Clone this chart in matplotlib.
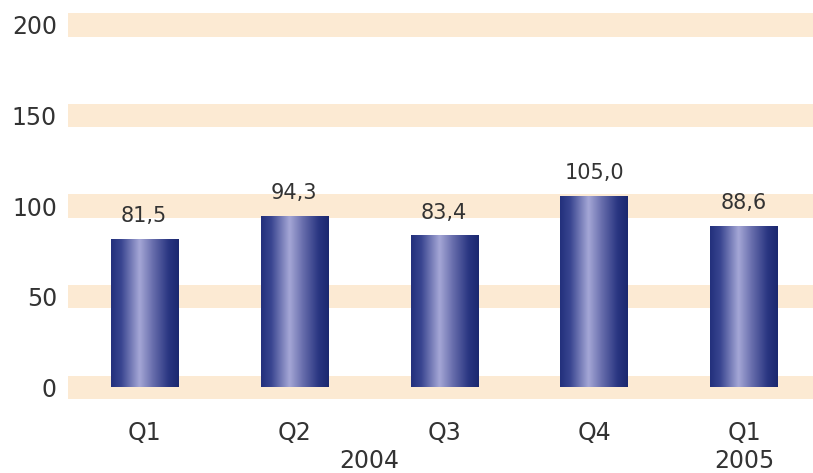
import numpy as np
import matplotlib
matplotlib.use('Agg')
import matplotlib.pyplot as plt
from matplotlib.colors import LinearSegmentedColormap

# data
quarters = ['Q1', 'Q2', 'Q3', 'Q4', 'Q1']
values = [81.5, 94.3, 83.4, 105.0, 88.6]
value_labels = ['81,5', '94,3', '83,4', '105,0', '88,6']
yticks = [0, 50, 100, 150, 200]
years = ['2004', '2005']
year_pos = [1.5, 4]

text_col = '#333333'
band_col = '#FCEAD3'

# horizontal shading for the cylinder-like bars
bar_cmap = LinearSegmentedColormap.from_list('barshade', [
    (0.0, '#22307C'),
    (0.15, '#394590'),
    (0.42, '#A5A7D6'),
    (0.62, '#676DAC'),
    (0.85, '#293581'),
    (1.0, '#1B286F'),
])

fig = plt.figure(figsize=(8.13, 4.73), dpi=100)
ax = fig.add_axes([68 / 813, 73 / 473, 745 / 813, 390.2 / 473])

# beige bands behind each tick
for t in yticks:
    ax.axhspan(t - 6.5, t + 6.5, color=band_col, lw=0, zorder=0)

# bars drawn with gradient images
w = 0.447
grad = np.linspace(0, 1, 256).reshape(1, -1)
x = np.arange(len(values))
for xi, v, lab in zip(x, values, value_labels):
    ax.imshow(grad, cmap=bar_cmap, aspect='auto', interpolation='bicubic',
              extent=(xi - w / 2, xi + w / 2, 0, v), zorder=2)
    ax.annotate(lab, (xi, v), xytext=(0, 17), textcoords='offset points',
                ha='center', va='center', fontsize=15, color=text_col)

ax.set_xlim(-0.507, 4.46)
ax.set_ylim(-7, 208.3)

ax.set_xticks(x)
ax.set_xticklabels(quarters, fontsize=17, color=text_col)
ax.set_yticks(yticks)
ax.set_yticklabels([str(t) for t in yticks], fontsize=17, color=text_col)
ax.tick_params(axis='x', length=0, pad=15)
ax.tick_params(axis='y', length=0, pad=8)

for yr, p in zip(years, year_pos):
    ax.text(p, -0.157, yr, transform=ax.get_xaxis_transform(),
            ha='center', va='center', fontsize=17, color=text_col)

for s in ax.spines.values():
    s.set_visible(False)

fig.savefig('out.png', dpi=100)
